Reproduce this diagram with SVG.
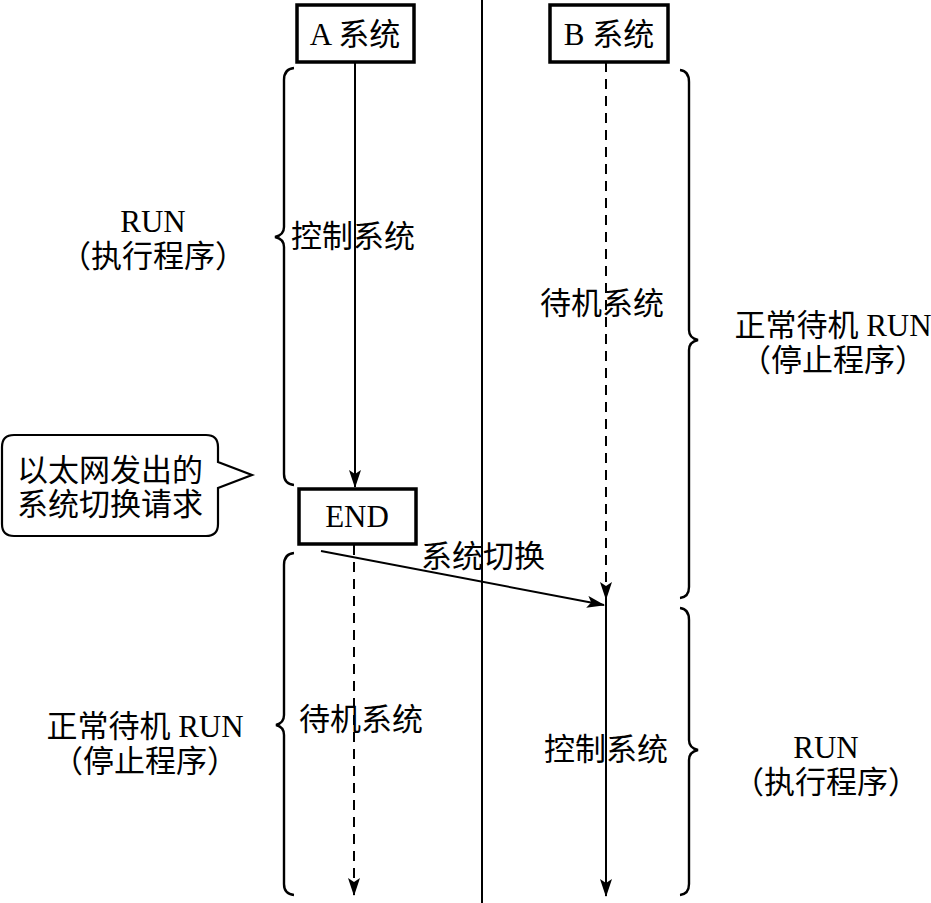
<svg xmlns="http://www.w3.org/2000/svg" width="931" height="903" viewBox="0 0 931 903">
<style>
text{font-family:"Liberation Serif","Noto Sans CJK SC",serif;font-size:31px;fill:#000}
.c{text-anchor:middle}
.box{fill:#fff;stroke:#000;stroke-width:3.5}
.ln{fill:none;stroke:#000;stroke-width:2}
.dash{stroke-dasharray:10 7}
.br{fill:none;stroke:#000;stroke-width:2.4}
</style>
<defs>
<marker id="ah" markerUnits="userSpaceOnUse" markerWidth="18" markerHeight="12" viewBox="0 0 18 12" refX="17" refY="6" orient="auto">
<path d="M0,0 L18,6 L0,12 L4,6 Z" fill="#000"/>
</marker>
</defs>
<rect width="931" height="903" fill="#fff"/>
<g id="connectors">
<line class="ln" x1="482" y1="0" x2="482" y2="903"/>
<line class="ln" x1="355" y1="62" x2="355" y2="487" marker-end="url(#ah)"/>
<line class="ln dash" x1="354" y1="545" x2="354" y2="895" marker-end="url(#ah)"/>
<line class="ln dash" x1="606" y1="62" x2="606" y2="599" marker-end="url(#ah)"/>
<line class="ln" x1="606" y1="599" x2="606" y2="896" marker-end="url(#ah)"/>
<line class="ln" x1="321" y1="551" x2="604" y2="605" marker-end="url(#ah)"/>
</g>
<g id="brace-a-top"><path class="br" d="M294 68 Q284 69 284 80 L284 227 Q284 235 275 237 Q284 239 284 247 L284 474 Q284 484 294 485"/></g>
<g id="brace-a-bottom"><path class="br" d="M294 553 Q284 554 284 565 L284 715 Q284 723 276 725 Q284 727 284 735 L284 884 Q284 894 294 895"/></g>
<g id="brace-b-top"><path class="br" d="M680 70 Q689 71 689 82 L689 330 Q689 338 698 340 Q689 342 689 350 L689 587 Q689 597 680 598"/></g>
<g id="brace-b-bottom"><path class="br" d="M680 608 Q689 609 689 620 L689 740 Q689 748 698 750 Q689 752 689 760 L689 884 Q689 894 680 895"/></g>
<g id="node-a"><rect class="box" x="297" y="5" width="117" height="57"/><text class="c" x="355" y="45">A 系统</text></g>
<g id="node-b"><rect class="box" x="550" y="5" width="118" height="57"/><text class="c" x="609" y="45">B 系统</text></g>
<g id="node-end"><rect class="box" x="299" y="489" width="117" height="55"/><text class="c" x="357" y="527">END</text></g>
<g id="callout">
<path d="M14 435 L206 435 Q218 435 218 447 L218 462 L252 475 L218 488 L218 524 Q218 536 206 536 L14 536 Q2 536 2 524 L2 447 Q2 435 14 435 Z" fill="#fff" stroke="#000" stroke-width="2.2"/>
<text class="c" x="110" y="481">以太网发出的</text>
<text class="c" x="110" y="515">系统切换请求</text>
</g>
<g id="labels">
<text class="c" x="153" y="232">RUN</text>
<text class="c" x="153" y="267">（执行程序）</text>
<text x="291" y="247">控制系统</text>
<text x="540" y="314">待机系统</text>
<text class="c" x="833" y="336">正常待机 RUN</text>
<text class="c" x="833" y="371">（停止程序）</text>
<text x="421" y="567">系统切换</text>
<text x="299" y="730">待机系统</text>
<text class="c" x="145" y="737">正常待机 RUN</text>
<text class="c" x="145" y="772">（停止程序）</text>
<text x="544" y="760">控制系统</text>
<text class="c" x="826" y="758">RUN</text>
<text class="c" x="826" y="793">（执行程序）</text>
</g>
</svg>
